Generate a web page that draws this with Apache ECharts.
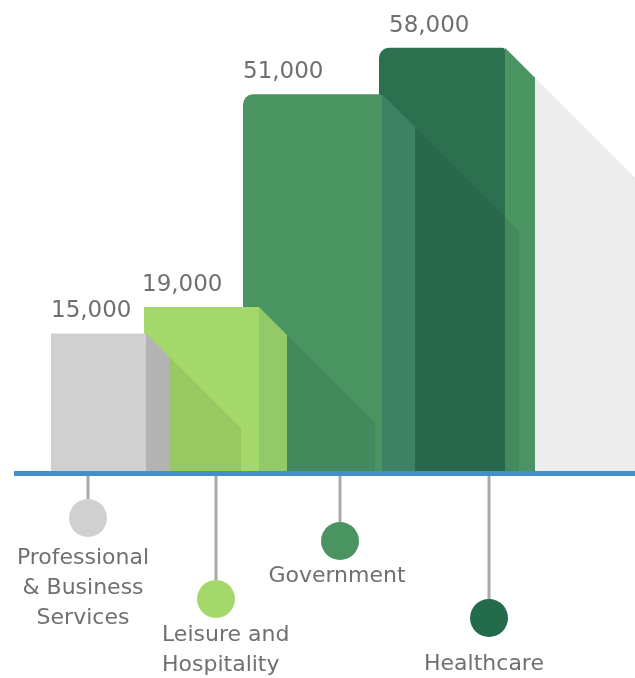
<!DOCTYPE html>
<html><head><meta charset="utf-8">
<script src="https://cdn.jsdelivr.net/npm/echarts@6/dist/echarts.min.js"></script>
<style>html,body{margin:0;padding:0;background:#fff}#c{width:635px;height:678px}</style>
</head><body><div id="c"></div>
<script>
// ---- data ----
const categories = ['Professional\n& Business\nServices', 'Leisure and\nHospitality', 'Government', 'Healthcare'];
const values = [15000, 19000, 51000, 58000];

// ---- styles ----
const frontColors = ['#D0D0D0', '#A4D86A', '#4A9462', '#2D7050'];
const sideColors  = ['#B3B3B3', '#92CA6A', '#3F8263', '#4A9462'];
const dotColors   = ['#D0D0D0', '#A4D86A', '#4A9462', '#236B4A'];

// ---- layout (horizontal placement of the infographic) ----
const Y_MIN = -6000, Y_MAX = 64000;
const layout = {
  frontLeft: [51, 144, 243, 379],
  frontWidth: [95, 115, 139, 126],
  sideWidth: [23, 28, 33, 30],
  shadowLen: [72, 88, 104, 130],
  corner: [[0,0,0,0],[0,0,0,0],[10,3,0,0],[10,3,0,0]],
  labelDx: [0, -2, 0, 10],
  stemX: [88, 216, 340, 489],
  dotY: [518, 599, 541, 618],
  catX: [83, 162, 337, 484],
  catY: [543, 620, 561, 649],
  catAlign: ['center', 'left', 'center', 'center']
};

const chart = echarts.init(document.getElementById('c'));

function renderItem(params, api) {
  const i = api.value(0), v = api.value(1);
  const X = px => api.coord([px, Y_MIN])[0];
  const top = api.coord([layout.frontLeft[i], v])[1];
  const base = api.coord([layout.frontLeft[i], Y_MIN])[1];
  const fl = X(layout.frontLeft[i]);
  const fr = X(layout.frontLeft[i] + layout.frontWidth[i]);
  const sw = layout.sideWidth[i], L = layout.shadowLen[i];
  const sx = fr + sw, sy = top + sw;
  const zb = (values.length - i) * 10;
  const stemX = X(layout.stemX[i]);
  return {
    type: 'group',
    children: [
      { type: 'polygon', z2: zb + 1,
        shape: { points: [[sx, sy], [sx + L, sy + L], [sx + L, base], [sx, base]] },
        style: { fill: 'rgba(0,0,0,0.07)' } },
      { type: 'polygon', z2: zb + 2,
        shape: { points: [[fr, top], [sx, sy], [sx, base], [fr, base]] },
        style: { fill: sideColors[i] } },
      { type: 'rect', z2: zb + 3,
        shape: { x: fl, y: top, width: fr - fl, height: base - top, r: layout.corner[i] },
        style: { fill: frontColors[i] } },
      { type: 'text', z2: 100, x: fl + layout.labelDx[i], y: top - 22,
        style: { text: v.toLocaleString('en-US'), fill: '#6f6f6f',
                 font: '23px "DejaVu Sans"', align: 'left', verticalAlign: 'middle' } },
      { type: 'line', z2: 100,
        shape: { x1: stemX, y1: base, x2: stemX, y2: layout.dotY[i] },
        style: { stroke: '#A9A9A9', lineWidth: 3 } },
      { type: 'circle', z2: 101,
        shape: { cx: stemX, cy: layout.dotY[i], r: 19 },
        style: { fill: dotColors[i] } },
      { type: 'text', z2: 101, x: X(layout.catX[i]), y: layout.catY[i],
        style: { text: categories[i], fill: '#707070', font: '22px "DejaVu Sans"',
                 align: layout.catAlign[i], verticalAlign: 'top', lineHeight: 30 } }
    ]
  };
}

chart.setOption({
  animation: false,
  backgroundColor: '#ffffff',
  grid: { left: 14, right: 0, top: 8, bottom: 205 },
  xAxis: {
    type: 'value', min: 14, max: 635, z: 10,
    axisLine: { show: true, onZero: false, lineStyle: { color: '#418FCB', width: 5, cap: 'butt' } },
    axisTick: { show: false }, axisLabel: { show: false }, splitLine: { show: false }
  },
  yAxis: { type: 'value', min: Y_MIN, max: Y_MAX, show: false },
  series: [{
    type: 'custom',
    renderItem: renderItem,
    clip: false,
    data: values.map((v, i) => [i, v])
  }]
});
</script>
</body></html>
